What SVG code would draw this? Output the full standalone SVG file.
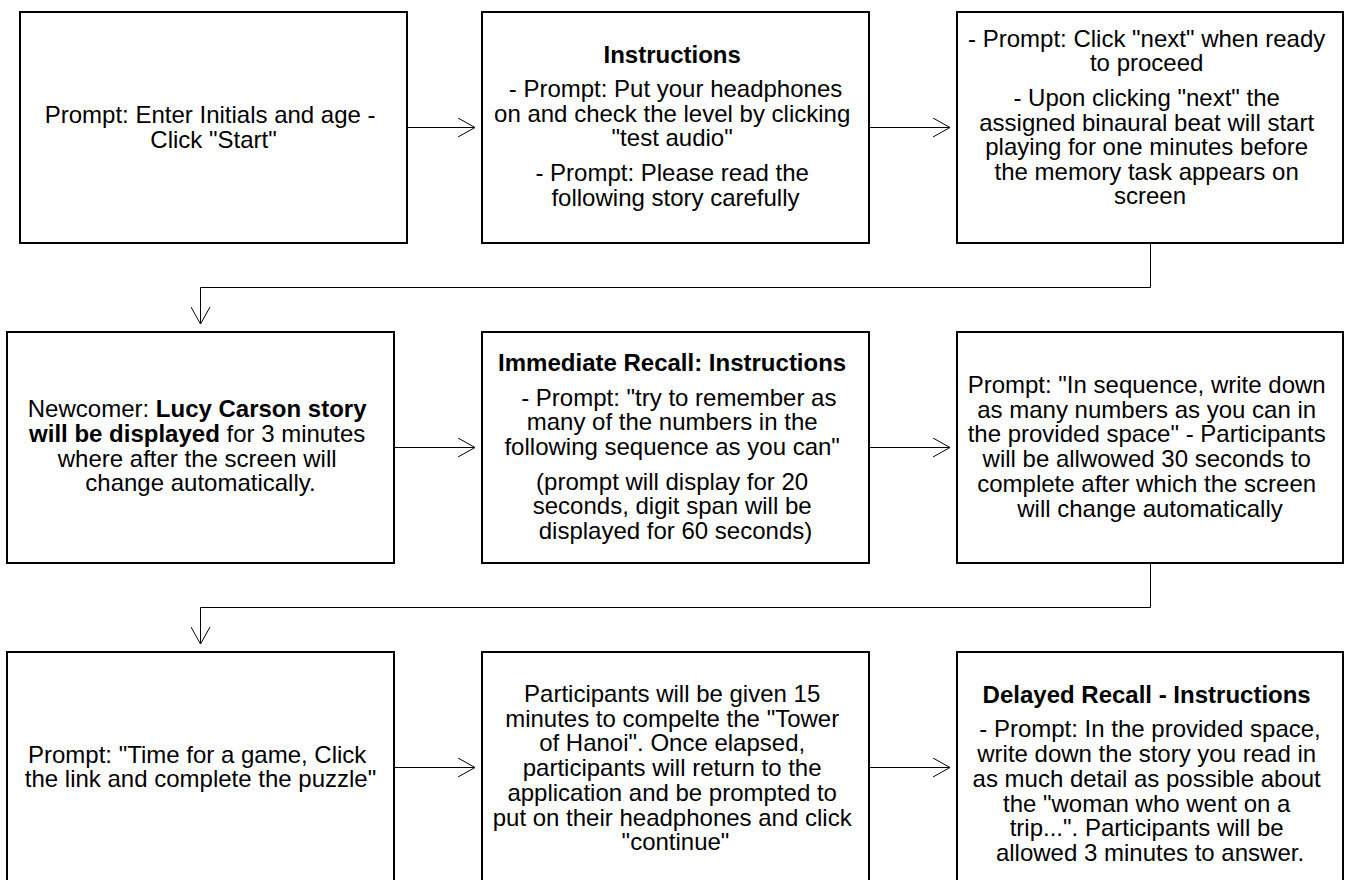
<svg xmlns="http://www.w3.org/2000/svg" width="1345" height="880" viewBox="0 0 1345 880">
  <style>
    .box { fill: #ffffff; stroke: #000000; stroke-width: 2; }
    .lbl { font-family: "Liberation Sans", Arial, sans-serif; font-size: 24px; fill: #000000; text-anchor: middle; }
    .b { font-weight: bold; }
    .edge { fill: none; stroke: #000000; stroke-width: 1; }
  </style>
  <defs>
    <!-- open chevron arrowhead used by every connector -->
    <marker id="arrow" viewBox="0 0 20 20" refX="18" refY="10" markerWidth="20" markerHeight="20" markerUnits="userSpaceOnUse" orient="auto">
      <path d="M1,0.5 L18,10 L1,19.5" fill="none" stroke="#000000" stroke-width="1"/>
    </marker>
  </defs>
  <rect width="1345" height="880" fill="#ffffff"/>

  <!-- connectors -->
  <g id="connectors">
    <path class="edge" marker-end="url(#arrow)" d="M407,127.5 H475"/>
    <path class="edge" marker-end="url(#arrow)" d="M869,127.5 H950"/>
    <path class="edge" marker-end="url(#arrow)" d="M1150.5,243 V287.5 H200.5 V324"/>
    <path class="edge" marker-end="url(#arrow)" d="M394,447.5 H475"/>
    <path class="edge" marker-end="url(#arrow)" d="M869,447.5 H950"/>
    <path class="edge" marker-end="url(#arrow)" d="M1150.5,563 V607.5 H200.5 V644"/>
    <path class="edge" marker-end="url(#arrow)" d="M394,767.5 H475"/>
    <path class="edge" marker-end="url(#arrow)" d="M869,767.5 H950"/>
  </g>

  <!-- row 1 -->
  <g id="start">
    <rect class="box" x="20" y="12" width="387" height="231"/>
    <text class="lbl">
      <tspan x="213.5" y="123">Prompt: Enter Initials and age -</tspan>
      <tspan x="213.5" y="147.5">Click "Start"</tspan>
    </text>
  </g>
  <g id="instructions">
    <rect class="box" x="482" y="12" width="387" height="231"/>
    <text class="lbl">
      <tspan class="b" x="675.5" y="62.5">Instructions</tspan>
      <tspan x="675.5" y="97">&#160;- Prompt: Put your headphones</tspan>
      <tspan x="675.5" y="121.5">on and check the level by clicking</tspan>
      <tspan x="675.5" y="146">"test audio"</tspan>
      <tspan x="675.5" y="181">- Prompt: Please read the</tspan>
      <tspan x="675.5" y="205.5">following story carefully</tspan>
    </text>
  </g>
  <g id="binaural-beat">
    <rect class="box" x="957" y="12" width="386" height="231"/>
    <text class="lbl">
      <tspan x="1150" y="46.5">- Prompt: Click "next" when ready</tspan>
      <tspan x="1150" y="71">to proceed</tspan>
      <tspan x="1150" y="106">- Upon clicking "next" the</tspan>
      <tspan x="1150" y="130.5">assigned binaural beat will start</tspan>
      <tspan x="1150" y="155">playing for one minutes before</tspan>
      <tspan x="1150" y="179.5">the memory task appears on</tspan>
      <tspan x="1150" y="204">screen</tspan>
    </text>
  </g>

  <!-- row 2 -->
  <g id="story">
    <rect class="box" x="7" y="332" width="387" height="231"/>
    <text class="lbl">
      <tspan x="200.5" y="416.5">Newcomer: <tspan class="b">Lucy Carson story</tspan></tspan>
      <tspan x="200.5" y="441.5"><tspan class="b">will be displayed</tspan> for 3 minutes</tspan>
      <tspan x="200.5" y="466.5">where after the screen will</tspan>
      <tspan x="200.5" y="491">change automatically.</tspan>
    </text>
  </g>
  <g id="immediate-recall">
    <rect class="box" x="482" y="332" width="387" height="231"/>
    <text class="lbl">
      <tspan class="b" x="675.5" y="370.5">Immediate Recall: Instructions</tspan>
      <tspan x="675.5" y="405.5">&#160;&#160;- Prompt: "try to remember as</tspan>
      <tspan x="675.5" y="430">many of the numbers in the</tspan>
      <tspan x="675.5" y="454.5">following sequence as you can"</tspan>
      <tspan x="675.5" y="489.5">(prompt will display for 20</tspan>
      <tspan x="675.5" y="514">seconds, digit span will be</tspan>
      <tspan x="675.5" y="538.5">displayed for 60 seconds)</tspan>
    </text>
  </g>
  <g id="write-numbers">
    <rect class="box" x="957" y="332" width="386" height="231"/>
    <text class="lbl">
      <tspan x="1150" y="392.7">Prompt: "In sequence, write down</tspan>
      <tspan x="1150" y="417.5">as many numbers as you can in</tspan>
      <tspan x="1150" y="442.3">the provided space" - Participants</tspan>
      <tspan x="1150" y="467">will be allwowed 30 seconds to</tspan>
      <tspan x="1150" y="491.8">complete after which the screen</tspan>
      <tspan x="1150" y="516.6">will change automatically</tspan>
    </text>
  </g>

  <!-- row 3 -->
  <g id="game">
    <rect class="box" x="7" y="652" width="387" height="231"/>
    <text class="lbl">
      <tspan x="200.5" y="762.5">Prompt: "Time for a game, Click</tspan>
      <tspan x="200.5" y="787.3">the link and complete the puzzle"</tspan>
    </text>
  </g>
  <g id="tower-of-hanoi">
    <rect class="box" x="482" y="652" width="387" height="231"/>
    <text class="lbl">
      <tspan x="675.5" y="701.7">Participants will be given 15</tspan>
      <tspan x="675.5" y="726.5">minutes to compelte the "Tower</tspan>
      <tspan x="675.5" y="751.3">of Hanoi". Once elapsed,</tspan>
      <tspan x="675.5" y="776">participants will return to the</tspan>
      <tspan x="675.5" y="800.8">application and be prompted to</tspan>
      <tspan x="675.5" y="825.6">put on their headphones and click</tspan>
      <tspan x="675.5" y="850.4">"continue"</tspan>
    </text>
  </g>
  <g id="delayed-recall">
    <rect class="box" x="957" y="652" width="386" height="231"/>
    <text class="lbl">
      <tspan class="b" x="1150" y="702.6">Delayed Recall - Instructions</tspan>
      <tspan x="1150" y="737.3">&#160;- Prompt: In the provided space,</tspan>
      <tspan x="1150" y="762">write down the story you read in</tspan>
      <tspan x="1150" y="786.8">as much detail as possible about</tspan>
      <tspan x="1150" y="811.5">the "woman who went on a</tspan>
      <tspan x="1150" y="836.3">trip...". Participants will be</tspan>
      <tspan x="1150" y="861">allowed 3 minutes to answer.</tspan>
    </text>
  </g>
</svg>
